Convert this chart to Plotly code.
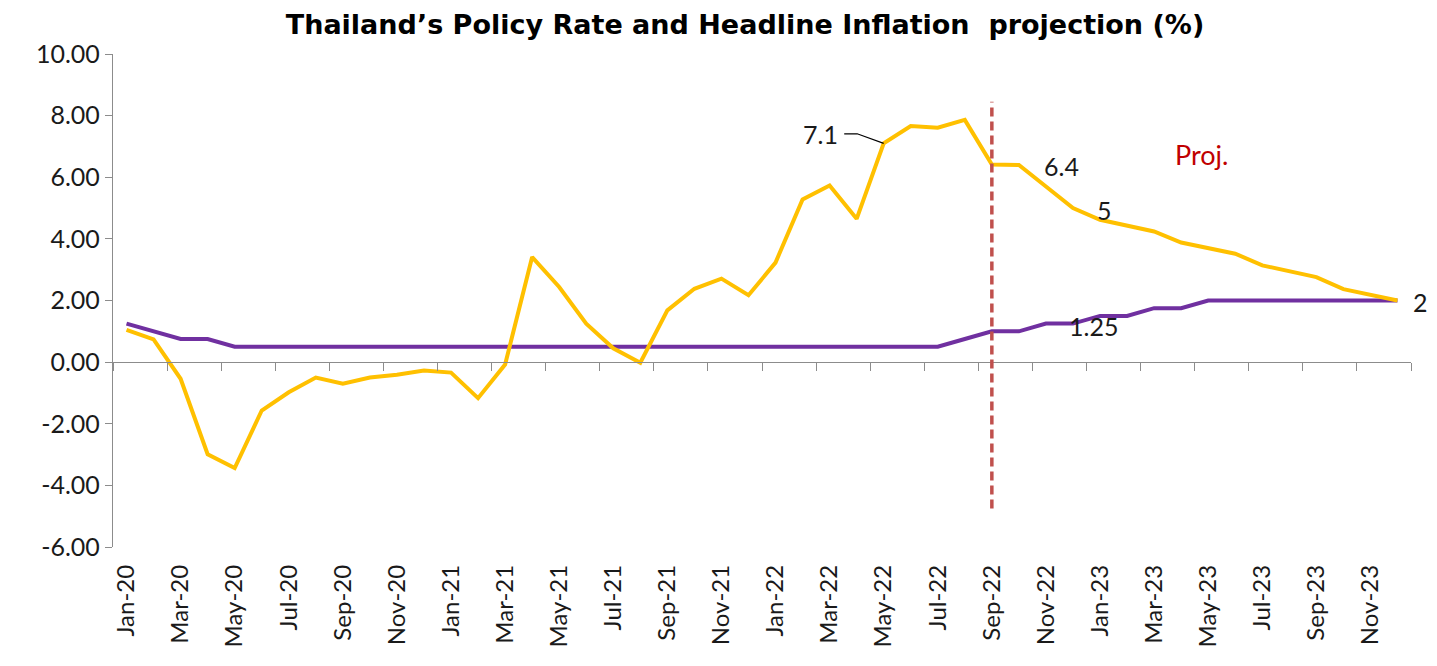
import plotly.graph_objects as go
import pandas as pd

# ---- data ----
months = [d.strftime("%b-%y") for d in pd.date_range("2020-01-01", "2023-12-01", freq="MS")]

headline_inflation = [
    1.05, 0.74, -0.54, -2.99, -3.44, -1.57, -0.98, -0.50, -0.70, -0.50, -0.41, -0.27,
    -0.34, -1.17, -0.08, 3.41, 2.44, 1.25, 0.45, -0.02, 1.68, 2.38, 2.71, 2.17,
    3.23, 5.28, 5.73, 4.65, 7.10, 7.66, 7.61, 7.86, 6.41, 6.40, 5.70, 5.00,
    4.62, 4.44, 4.24, 3.88, 3.70, 3.52, 3.14, 2.94, 2.76, 2.37, 2.18, 2.00,
]

policy_rate = [
    1.25, 1.00, 0.75, 0.75, 0.50, 0.50, 0.50, 0.50, 0.50, 0.50, 0.50, 0.50,
    0.50, 0.50, 0.50, 0.50, 0.50, 0.50, 0.50, 0.50, 0.50, 0.50, 0.50, 0.50,
    0.50, 0.50, 0.50, 0.50, 0.50, 0.50, 0.50, 0.75, 1.00, 1.00, 1.25, 1.25,
    1.50, 1.50, 1.75, 1.75, 2.00, 2.00, 2.00, 2.00, 2.00, 2.00, 2.00, 2.00,
]

y_ticks = [-6, -4, -2, 0, 2, 4, 6, 8, 10]
label_months = months[::2]
projection_start = "Sep-22"

# ---- styling ----
FONT = "Lato"
TXT = "#1a1a1a"
AXC = "#8c8c8c"
n = len(months)
idx = list(range(n))
xr = [-0.5, n - 0.5]

fig = go.Figure()

fig.add_trace(go.Scatter(
    x=idx, y=policy_rate, mode="lines", name="Policy rate",
    line=dict(color="#7030A0", width=4), xaxis="x", yaxis="y",
    hoverinfo="skip",
))
fig.add_trace(go.Scatter(
    x=idx, y=headline_inflation, mode="lines", name="Headline inflation",
    line=dict(color="#FFC000", width=4), xaxis="x2", yaxis="y",
    hoverinfo="skip",
))

ps = months.index(projection_start)
fig.add_shape(type="line", xref="x", yref="y", x0=ps, x1=ps, y0=-4.75, y1=8.45,
              line=dict(color="#C0504D", width=3.5, dash="9px,5px"))

# leader line for 7.1 label
pk = months.index("May-22")
pv = headline_inflation[pk]
fig.add_shape(type="path", xref="x", yref="y",
              path=f"M {pk-1.46},{pv+0.31} L {pk-0.98},{pv+0.31} L {pk},{pv}",
              line=dict(color="black", width=1.2))

ann_font = dict(family=FONT, size=25, color=TXT)
fig.add_annotation(x=pk - 2.35, y=pv + 0.31, text="7.1", showarrow=False, font=ann_font)
i = months.index("Oct-22")
fig.add_annotation(x=i + 1.57, y=headline_inflation[i] - 0.03, text="6.4", showarrow=False, font=ann_font)
i = months.index("Dec-22")
fig.add_annotation(x=i + 1.17, y=headline_inflation[i] - 0.06, text="5", showarrow=False, font=ann_font)
i = months.index("Dec-22")
fig.add_annotation(x=i + 0.76, y=policy_rate[i] - 0.07, text="1.25", showarrow=False, font=ann_font)
i = months.index("Dec-23")
fig.add_annotation(x=i, xshift=23, y=headline_inflation[i] - 0.04, text="2", showarrow=False, font=ann_font)
fig.add_annotation(x=39.76, y=6.73, text="Proj.", showarrow=False,
                   font=dict(family=FONT, size=27, color="#C00000"))

# page body adds an 8px offset; figure is sized so its plot area lands where the reference has it
H = 658
W = 1437
fig.update_layout(
    width=W, height=H,
    margin=dict(l=105, r=34, t=46, b=119),
    paper_bgcolor="white", plot_bgcolor="white",
    showlegend=False,
    title=dict(text="<b>Thailand’s Policy Rate and Headline Inflation  projection (%)</b>",
               x=737 / W, xanchor="center", y=1 - 17 / H, yanchor="middle", automargin=False,
               font=dict(family="DejaVu Sans", size=27, color="black")),
    xaxis=dict(range=xr, tickmode="array", tickvals=idx[::2], ticktext=label_months,
               tickangle=-90, ticks="", showline=False, showgrid=False, zeroline=False,
               tickfont=dict(family=FONT, size=24, color=TXT), ticklabelstandoff=12,
               automargin=False, fixedrange=True),
    xaxis2=dict(range=xr, overlaying="x", anchor="free", position=6 / 16,
                tickmode="array", tickvals=[v - 0.5 for v in idx[::2]] + [n - 0.5],
                ticks="outside", ticklen=8, tickcolor=AXC, tickwidth=1.3,
                showticklabels=False, showline=True, linecolor=AXC, linewidth=1.3,
                showgrid=False, zeroline=False, automargin=False),
    yaxis=dict(range=[-6, 10], domain=[0, 1], tickmode="array", tickvals=y_ticks,
               ticktext=[f"{v:.2f}" for v in y_ticks],
               ticks="outside", ticklen=7, tickcolor=AXC, tickwidth=1.3,
               showline=True, linecolor=AXC, linewidth=1.3,
               showgrid=False, zeroline=False, automargin=False,
               tickfont=dict(family=FONT, size=25, color=TXT)),
)

fig.write_html("out.html")
